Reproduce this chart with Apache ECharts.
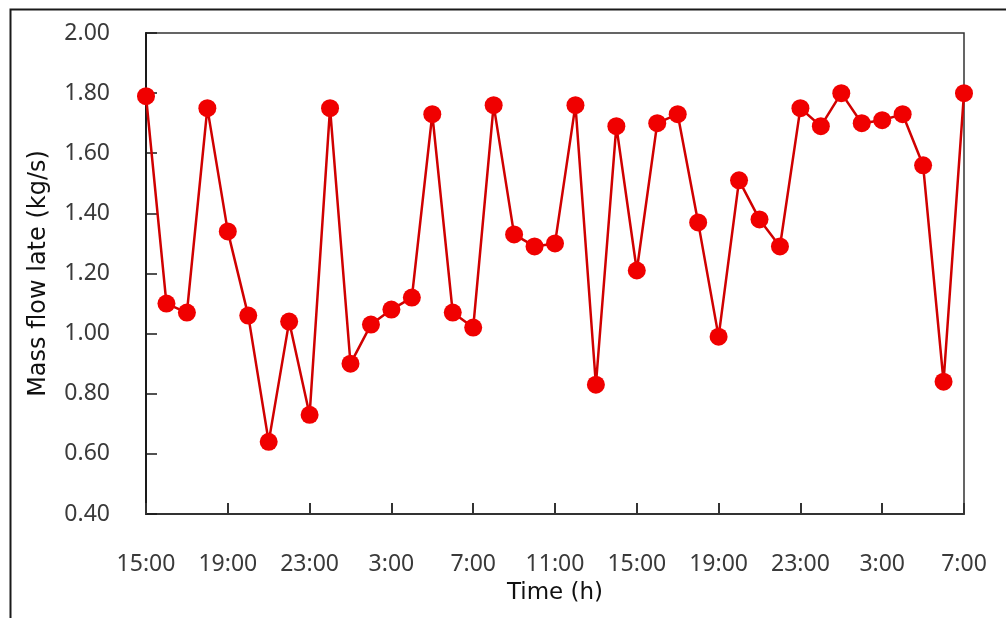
<!DOCTYPE html>
<html>
<head>
<meta charset="utf-8">
<script src="https://cdn.jsdelivr.net/npm/echarts@6/dist/echarts.min.js"></script>
<style>
html,body{margin:0;padding:0;background:#fff;}
#chart{width:1006px;height:618px;}
</style>
</head>
<body>
<div id="chart"></div>
<script>
// Hourly times, 15:00 day 1 to 7:00 day 3
const categories = [
  "15:00","16:00","17:00","18:00","19:00","20:00","21:00","22:00","23:00","0:00",
  "1:00","2:00","3:00","4:00","5:00","6:00","7:00","8:00","9:00","10:00",
  "11:00","12:00","13:00","14:00","15:00","16:00","17:00","18:00","19:00","20:00",
  "21:00","22:00","23:00","0:00","1:00","2:00","3:00","4:00","5:00","6:00","7:00"
];
const massFlow = [
  1.79, 1.10, 1.07, 1.75, 1.34, 1.06, 0.64, 1.04, 0.73, 1.75,
  0.90, 1.03, 1.08, 1.12, 1.73, 1.07, 1.02, 1.76, 1.33, 1.29,
  1.30, 1.76, 0.83, 1.69, 1.21, 1.70, 1.73, 1.37, 0.99, 1.51,
  1.38, 1.29, 1.75, 1.69, 1.80, 1.70, 1.71, 1.73, 1.56, 0.84, 1.80
];
const yTicks = { min: 0.4, max: 2.0, step: 0.2 };
const xName = "Time (h)";
const yName = "Mass flow late (kg/s)";

const chart = echarts.init(document.getElementById('chart'), null, {renderer: 'canvas'});
const tickFont = { fontFamily: 'Noto Sans', fontSize: 23, color: '#3a3a3a' };
chart.setOption({
  animation: false,
  backgroundColor: '#ffffff',
  graphic: [{
    type: 'rect', left: 8, top: 7, z: -1,
    shape: { width: 1100, height: 700 },
    style: { fill: 'none', stroke: '#1a1a1a', lineWidth: 2 }
  }],
  grid: {
    left: 146, right: 42, top: 33, bottom: 104,
    show: true, borderColor: '#333', borderWidth: 1.5, backgroundColor: 'transparent'
  },
  xAxis: {
    type: 'category',
    data: categories,
    boundaryGap: false,
    name: xName,
    nameLocation: 'middle',
    nameGap: 68,
    nameTextStyle: { fontFamily: 'DejaVu Sans', fontSize: 23, color: '#111' },
    axisLine: { lineStyle: { color: '#333', width: 2 } },
    axisTick: { show: true, inside: true, length: 11, interval: 3, alignWithLabel: true,
      lineStyle: { color: '#333', width: 2 } },
    axisLabel: Object.assign({ interval: 3, margin: 39 }, tickFont),
    splitLine: { show: false }
  },
  yAxis: {
    type: 'value',
    min: yTicks.min, max: yTicks.max, interval: yTicks.step,
    name: yName,
    nameLocation: 'middle',
    nameGap: 95,
    nameTextStyle: { fontFamily: 'DejaVu Sans', fontSize: 24, color: '#111' },
    axisLine: { show: true, lineStyle: { color: '#1a1a1a', width: 2 } },
    axisTick: { show: true, inside: true, length: 11, lineStyle: { color: '#1a1a1a', width: 1.5 } },
    axisLabel: Object.assign({ margin: 36, formatter: v => v.toFixed(2) }, tickFont),
    splitLine: { show: false }
  },
  series: [{
    type: 'line',
    data: massFlow,
    symbol: 'circle',
    symbolSize: 18,
    showAllSymbol: true,
    clip: false,
    lineStyle: { color: '#d00000', width: 2.5 },
    itemStyle: { color: '#f00000' }
  }]
});
</script>
</body>
</html>
